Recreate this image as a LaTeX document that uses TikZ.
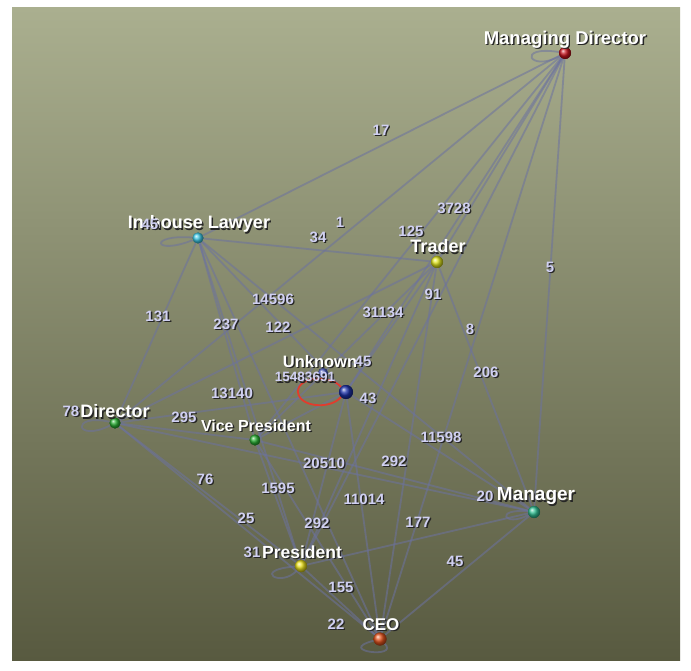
\documentclass[tikz,border=0pt]{standalone}
\usepackage{fontspec}
\setmainfont{Liberation Sans}
\definecolor{edgec}{RGB}{108,114,160}
\definecolor{lav}{RGB}{208,208,242}
\definecolor{bgtop}{RGB}{170,175,143}
\definecolor{bgmid}{RGB}{152,155,112}
\definecolor{bgbot}{RGB}{88,90,64}
\definecolor{mdc}{RGB}{200,20,30}
\definecolor{lawc}{RGB}{60,200,230}
\definecolor{trac}{RGB}{225,230,30}
\definecolor{unkc}{RGB}{30,50,170}
\definecolor{dirc}{RGB}{40,175,50}
\definecolor{manc}{RGB}{50,195,150}
\definecolor{prec}{RGB}{238,228,30}
\definecolor{ceoc}{RGB}{230,85,30}
\definecolor{loopred}{RGB}{225,60,45}
\newcommand{\shtxt}[2]{\makebox[0pt][l]{\kern1.4pt\raisebox{-1.4pt}{\textcolor{black!85}{#2}}}\textcolor{#1}{#2}}
\tikzset{
  edge/.style={draw=edgec, draw opacity=0.55, line width=1.8pt},
  dot/.style={circle, inner sep=0pt, minimum size=12pt, shading=ball, ball color=#1},
  nlab/.style={inner sep=0pt, font=\bfseries\fontsize{#1}{#1}\selectfont},
  elab/.style={inner sep=0pt, font=\bfseries\fontsize{#1}{#1}\selectfont},
  elab/.default=15
}
\begin{document}
\begin{tikzpicture}[x=1pt,y=-1pt]
\useasboundingbox (0,0) rectangle (691,671);
\fill[white] (0,0) rectangle (691,671);
\shade[top color=bgtop, middle color=bgmid, bottom color=bgbot] (12,8) rectangle (680,660);
% nodes (dots)
\node[dot=mdc] (md) at (565,53) {};
\node[dot=lawc, minimum size=11pt] (law) at (198,238) {};
\node[dot=trac] (tra) at (437,262) {};
\node[dot=unkc!80!white, minimum size=10pt] (unka) at (323,373) {};
\node[dot=unkc, minimum size=14pt] (unk) at (346,392) {};
\node[dot=dirc, minimum size=11pt] (dir) at (115,423) {};
\node[dot=dirc, minimum size=11pt] (vp) at (255,440) {};
\node[dot=manc] (man) at (534,512) {};
\node[dot=prec] (pre) at (301,566) {};
\node[dot=ceoc, minimum size=13pt] (ceo) at (380,639) {};
% edges
\foreach \a/\b in {md/law, md/tra, md/dir, md/man, md/vp, md/ceo, md/unk, md/pre,
  tra/law, tra/ceo, tra/vp, tra/man, tra/unk, tra/dir, tra/pre,
  law/dir, law/vp, law/unk, law/man, law/pre, law/ceo,
  dir/unk, dir/vp, dir/pre, dir/ceo, dir/man,
  vp/pre, vp/man, vp/unk, vp/ceo,
  unk/man, unk/ceo, unk/pre, unka/unk,
  man/pre, man/ceo, pre/ceo}
  \draw[edge] (\a) -- (\b);
% self loops
\draw[edge] (md) .. controls +(-50,-8) and +(-35,20) .. (md);
\draw[edge] (law) .. controls +(-50,-4) and +(-45,18) .. (law);
\draw[edge] (dir) .. controls +(-45,-10) and +(-40,20) .. (dir);
\draw[edge] (man) .. controls +(-40,-4) and +(-30,16) .. (man);
\draw[edge] (pre) .. controls +(-50,4) and +(-20,22) .. (pre);
\draw[edge] (ceo) .. controls +(-45,12) and +(20,20) .. (ceo);
\draw[loopred, line width=1.8pt] (unk.north west) .. controls (330,374) and (297,377) .. (298,392) .. controls (299,407) and (330,410) .. (unk.south west);
% redraw dots on top
\node[dot=mdc] at (md) {};
\node[dot=lawc, minimum size=11pt] at (law) {};
\node[dot=trac] at (tra) {};
\node[dot=unkc!80!white, minimum size=10pt] at (unka) {};
\node[dot=unkc, minimum size=14pt] at (unk) {};
\node[dot=dirc, minimum size=11pt] at (dir) {};
\node[dot=dirc, minimum size=11pt] at (vp) {};
\node[dot=manc] at (man) {};
\node[dot=prec] at (pre) {};
\node[dot=ceoc, minimum size=13pt] at (ceo) {};
% node labels
\node[nlab=18.5] (mdl) at (565,40) {\shtxt{white}{Managing Director}};
\node[nlab=18] (lawl) at (199,225) {\shtxt{white}{In-house Lawyer}};
\node[nlab=18] (tral) at (438,247) {\shtxt{white}{Trader}};
\node[nlab=16.5] (unkl) at (320,362) {\shtxt{white}{Unknown}};
\node[nlab=18] (dirl) at (115,412) {\shtxt{white}{Director}};
\node[nlab=16] (vpl) at (256,426) {\shtxt{white}{Vice President}};
\node[nlab=19] (manl) at (536,497) {\shtxt{white}{Manager}};
\node[nlab=17.5] (prel) at (302,553) {\shtxt{white}{President}};
\node[nlab=17] (ceol) at (381,625) {\shtxt{white}{CEO}};
% edge / count labels
\node[elab] (l17) at (381,131) {\shtxt{lav}{17}};
\node[elab] (l3728) at (454,209) {\shtxt{lav}{3728}};
\node[elab] (l125) at (411,232) {\shtxt{lav}{125}};
\node[elab] (l1) at (340,223) {\shtxt{lav}{1}};
\node[elab] (l34) at (318,238) {\shtxt{lav}{34}};
\node[elab] (l5) at (550,268) {\shtxt{lav}{5}};
\node[elab] (l14596) at (273,300) {\shtxt{lav}{14596}};
\node[elab] (l131) at (158,317) {\shtxt{lav}{131}};
\node[elab] (l237) at (226,325) {\shtxt{lav}{237}};
\node[elab] (l122) at (278,328) {\shtxt{lav}{122}};
\node[elab] (l31134) at (383,313) {\shtxt{lav}{31134}};
\node[elab] (l91) at (433,295) {\shtxt{lav}{91}};
\node[elab] (l8) at (470,330) {\shtxt{lav}{8}};
\node[elab] (l206) at (486,373) {\shtxt{lav}{206}};
\node[elab] (l13140) at (232,394) {\shtxt{lav}{13140}};
\node[elab] (l295) at (184,418) {\shtxt{lav}{295}};
\node[elab] (l43) at (368,399) {\shtxt{lav}{43}};
\node[elab] (l45u) at (363,362) {\shtxt{lav}{45}};
\node[elab=13.5] (lself) at (305,378) {\shtxt{lav}{15483691}};
\node[elab] (l11598) at (441,438) {\shtxt{lav}{11598}};
\node[elab] (l20510) at (324,464) {\shtxt{lav}{20510}};
\node[elab] (l292a) at (394,462) {\shtxt{lav}{292}};
\node[elab] (l76) at (205,480) {\shtxt{lav}{76}};
\node[elab] (l1595) at (278,489) {\shtxt{lav}{1595}};
\node[elab] (l11014) at (364,500) {\shtxt{lav}{11014}};
\node[elab] (l25) at (246,519) {\shtxt{lav}{25}};
\node[elab] (l292b) at (317,524) {\shtxt{lav}{292}};
\node[elab] (l177) at (418,523) {\shtxt{lav}{177}};
\node[elab] (l45m) at (455,562) {\shtxt{lav}{45}};
\node[elab] (l155) at (341,588) {\shtxt{lav}{155}};
\node[elab] (l22) at (336,625) {\shtxt{lav}{22}};
\node[elab] (l78) at (71,412) {\shtxt{lav}{78}};
\node[elab] (l20) at (485,497) {\shtxt{lav}{20}};
\node[elab] (l31) at (252,553) {\shtxt{lav}{31}};
\node[elab] (l45l) at (150,225) {\shtxt{lav}{45}};
\end{tikzpicture}
\end{document}
